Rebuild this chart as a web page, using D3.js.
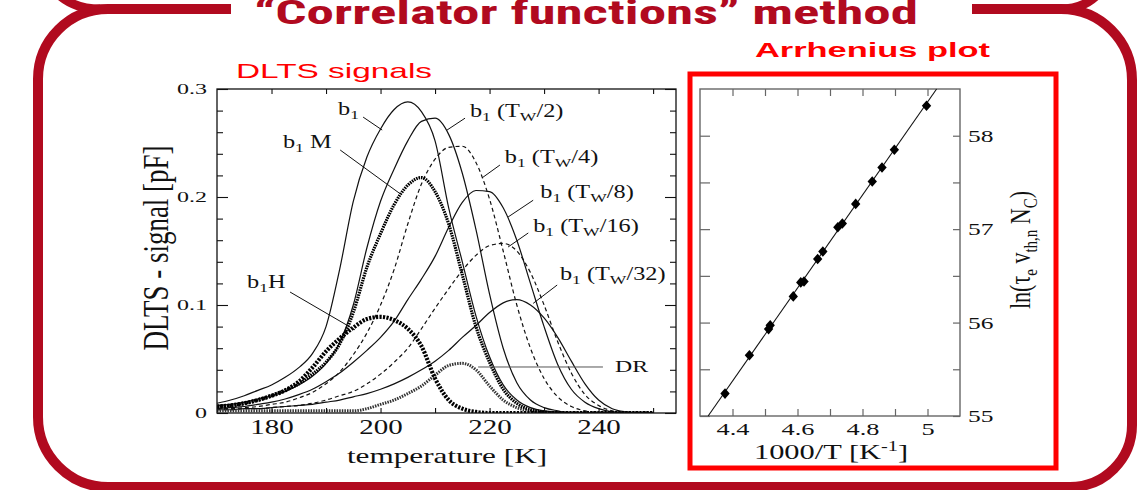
<!DOCTYPE html>
<html>
<head>
<meta charset="utf-8">
<script src="https://cdn.jsdelivr.net/npm/d3@7"></script>
<style>
  body { margin: 0; background: #fff; }
  svg { display: block; }
  .serif { font-family: "Liberation Serif", "DejaVu Serif", serif; fill: #111; }
  .axis line { stroke: #111; stroke-width: 1.1; }
  .axis-grey line { stroke: #666; stroke-width: 1.2; }
</style>
</head>
<body>
<svg id="chart" width="1138" height="490"></svg>
<script>
// --- DLTS signals: temperature grid [K] and signal [pF] per curve ---
const temps = [170,172.5,175,177.5,180,182.5,185,187.5,190,192.5,195,197.5,200,202.5,205,207.5,210,212.5,215,217.5,220,222.5,225,227.5,230,232.5,235,237.5,240,242.5,245,247.5,250];
const b1    = [.009,.012,.016,.021,.026,.033,.042,.055,.08,.133,.196,.237,.263,.281,.288,.279,.252,.19,.14,.09,.052,.026,.012,.005,.002,.001,0,0,0,0,0,0,0];
const b1M   = [.006,.007,.009,.012,.016,.021,.027,.036,.047,.064,.093,.135,.166,.193,.211,.218,.205,.175,.128,.08,.047,.022,.009,.003,.001,0,0,0,0,0,0,0,0];
const b1Tw2 = [.007,.008,.01,.013,.016,.02,.026,.034,.046,.065,.1,.153,.196,.226,.252,.27,.273,.258,.222,.17,.11,.06,.028,.012,.005,.002,0,0,0,0,0,0,0];
const b1Tw4 = [.004,.004,.005,.006,.008,.01,.014,.019,.027,.038,.054,.074,.1,.133,.175,.212,.235,.246,.247,.232,.198,.15,.1,.06,.032,.015,.006,.002,0,0,0,0,0];
const b1Tw8 = [.004,.005,.006,.008,.01,.013,.017,.022,.029,.037,.047,.058,.07,.085,.105,.124,.145,.172,.195,.206,.205,.19,.16,.12,.08,.045,.022,.01,.004,.001,0,0,0];
const b1Tw16 = [.003,.003,.004,.004,.005,.006,.007,.009,.012,.016,.02,.027,.036,.047,.06,.078,.097,.115,.132,.146,.155,.157,.15,.13,.1,.066,.037,.017,.007,.002,0,0,0];
const b1Tw32 = [.003,.003,.004,.004,.005,.006,.007,.008,.01,.012,.015,.018,.022,.027,.033,.04,.048,.058,.07,.081,.093,.102,.105,.1,.088,.07,.048,.027,.012,.004,.001,0,0];
const b1H   = [.006,.007,.009,.012,.016,.021,.029,.042,.057,.069,.079,.087,.089,.086,.078,.062,.032,.012,.004,.001,0,0,0,0,0,0,0,0,0,0,0,0,0];
const dr    = [.002,.002,.002,.002,.002,.002,.002,.002,.002,.002,.002,.004,.008,.012,.018,.025,.035,.044,.046,.04,.025,.012,.005,.002,.001,0,0,0,0,0,0,0,0];

const dltsXTicks = [180,190,200,210,220,230,240,250];
const dltsXLabels = [180,200,220,240];
const dltsYMajor = [0,0.1,0.2,0.3];
const dltsYMinor = [0.02,0.04,0.06,0.08,0.12,0.14,0.16,0.18,0.22,0.24,0.26,0.28];

// --- Arrhenius plot: 1000/T [1/K] and ln(tau_e v_th,n N_C) ---
const invT  = [4.377,4.452,4.511,4.516,4.587,4.610,4.620,4.662,4.678,4.724,4.738,4.779,4.830,4.860,4.898,4.997];
const lnTau = [55.24,55.65,55.93,55.97,56.28,56.43,56.44,56.68,56.76,57.02,57.06,57.27,57.51,57.66,57.85,58.32];
const fitX = [4.325, 5.028];
const fitY = [55.0, 58.5];
const arrXTicks = [4.4,4.5,4.6,4.7,4.8,4.9,5.0];
const arrXLabels = [4.4,4.6,4.8,5.0];
const arrYTicks = [55,55.5,56,56.5,57,57.5,58];
const arrYLabels = [55,56,57,58];

const svg = d3.select("#chart");
const darkRed = "#b10a1f";

// estira el texto en horizontal como en la imagen original
function stretch(sel, k) {
    sel.each(function() {
        const t = d3.select(this);
        const x0 = +t.attr("x") || 0;
        t.attr("x", x0 / k).attr("transform", `scale(${k},1)`);
    });
}

// --- Marco redondeado y titulo ---
const frame = d3.path();
frame.moveTo(231, 9);
frame.lineTo(108, 9);
frame.arcTo(38, 9, 38, 79, 70);
frame.lineTo(38, 417);
frame.arcTo(38, 487, 108, 487, 70);
frame.lineTo(1070, 487);
frame.arcTo(1132, 487, 1132, 425, 62);
frame.lineTo(1132, 80);
frame.arcTo(1132, 9, 1061, 9, 71);
frame.lineTo(972, 9);

svg.append("path")
    .attr("d", frame.toString())
    .attr("fill", "none")
    .attr("stroke", darkRed)
    .attr("stroke-width", 10);

svg.append("path")
    .attr("d", "M 100 9 Q 74 9 58 -6")
    .attr("fill", "none").attr("stroke", darkRed).attr("stroke-width", 9);
svg.append("path")
    .attr("d", "M 1060 9 Q 1084 9 1098 -6")
    .attr("fill", "none").attr("stroke", darkRed).attr("stroke-width", 9);

svg.append("text")
    .attr("x", 586).attr("y", 24)
    .attr("text-anchor", "middle")
    .attr("font-family", "'Liberation Sans Narrow', 'Roboto Condensed', 'Liberation Sans', sans-serif")
    .attr("font-weight", "bold")
    .attr("font-size", 33)
    .attr("fill", darkRed)
    .attr("textLength", 664)
    .attr("lengthAdjust", "spacingAndGlyphs")
    .text("\u201CCorrelator functions\u201D method");

svg.append("text")
    .attr("x", 236).attr("y", 78)
    .attr("font-family", "'Liberation Sans', Arial, sans-serif")
    .attr("font-size", 21)
    .attr("fill", "#ff0000")
    .attr("textLength", 196)
    .attr("lengthAdjust", "spacingAndGlyphs")
    .text("DLTS signals");

svg.append("text")
    .attr("x", 755).attr("y", 57)
    .attr("font-family", "'Liberation Sans', Arial, sans-serif")
    .attr("font-weight", "bold")
    .attr("font-size", 20)
    .attr("fill", "#ff0000")
    .attr("textLength", 235)
    .attr("lengthAdjust", "spacingAndGlyphs")
    .text("Arrhenius plot");

// --- Grafico DLTS ---
const x = d3.scaleLinear().domain([170, 254.2]).range([217, 676]);
const y = d3.scaleLinear().domain([0, 0.3]).range([413, 89]);

svg.append("clipPath").attr("id", "clipDlts")
  .append("rect")
    .attr("x", x.range()[0]).attr("y", y.range()[1])
    .attr("width", x.range()[1] - x.range()[0])
    .attr("height", y.range()[0] - y.range()[1]);

const dlts = svg.append("g").attr("clip-path", "url(#clipDlts)");

const line = d3.line()
    .x((d, i) => x(temps[i]))
    .y(d => y(d))
    .curve(d3.curveMonotoneX);

const dltsSeries = [
    { values: b1Tw32, width: 1.2, dash: null,      color: "#111" },
    { values: b1Tw16, width: 1.2, dash: "4,3",     color: "#111" },
    { values: b1Tw8,  width: 1.2, dash: null,      color: "#111" },
    { values: b1Tw4,  width: 1.2, dash: "4,3",     color: "#111" },
    { values: b1Tw2,  width: 1.2, dash: null,      color: "#111" },
    { values: b1,     width: 1.2, dash: null,      color: "#111" },
    { values: dr,     width: 3.0, dash: "1.5,1.1", color: "#333" },
    { values: b1H,    width: 4.2, dash: "2.2,1.3", color: "#000" },
    { values: b1M,    width: 3.2, dash: "1.6,0.9", color: "#000" }
];

dlts.selectAll("path.curve")
    .data(dltsSeries)
    .join("path")
    .attr("class", "curve")
    .attr("d", d => line(d.values))
    .attr("fill", "none")
    .attr("stroke", d => d.color)
    .attr("stroke-width", d => d.width)
    .attr("stroke-dasharray", d => d.dash);

// ejes y marcas
svg.append("rect")
    .attr("x", 217).attr("y", 89)
    .attr("width", x(254.2) - x(170)).attr("height", y(0) - y(0.3))
    .attr("fill", "none").attr("stroke", "#111").attr("stroke-width", 1.3);

const gxb = svg.append("g").attr("class", "axis serif")
    .attr("transform", `translate(0,${y(0)})`)
    .call(d3.axisBottom(x).tickValues(dltsXTicks).tickSize(-5).tickPadding(7)
        .tickFormat(d => dltsXLabels.includes(d) ? d : ""));
svg.append("g").attr("class", "axis")
    .attr("transform", `translate(0,${y(0.3)})`)
    .call(d3.axisTop(x).tickValues(dltsXTicks).tickSize(-5).tickFormat(""));
const gyl = svg.append("g").attr("class", "axis serif")
    .attr("transform", `translate(${x(170)},0)`)
    .call(d3.axisLeft(y).tickValues(dltsYMajor).tickSize(-11).tickPadding(10)
        .tickFormat(d => d === 0 ? "0" : d.toFixed(1)));
svg.append("g").attr("class", "axis")
    .attr("transform", `translate(${x(170)},0)`)
    .call(d3.axisLeft(y).tickValues(dltsYMinor).tickSize(-6).tickFormat(""));
svg.append("g").attr("class", "axis")
    .attr("transform", `translate(${x(254.2)},0)`)
    .call(d3.axisRight(y).tickValues(dltsYMajor).tickSize(-11).tickFormat(""));
svg.append("g").attr("class", "axis")
    .attr("transform", `translate(${x(254.2)},0)`)
    .call(d3.axisRight(y).tickValues(dltsYMinor).tickSize(-6).tickFormat(""));

svg.selectAll(".axis .domain").remove();
gxb.selectAll("text").attr("font-size", 20).attr("fill", "#111").call(stretch, 1.45);
gyl.selectAll("text").attr("font-size", 15).attr("fill", "#111").call(stretch, 1.6);

svg.append("text")
    .attr("class", "serif")
    .attr("text-anchor", "middle")
    .attr("font-size", 22)
    .attr("transform", `translate(447,463) scale(1.42,1)`)
    .text("temperature [K]");

svg.append("text")
    .attr("class", "serif")
    .attr("text-anchor", "middle")
    .attr("font-size", 27)
    .attr("transform", `translate(168,248) scale(1.3,1) rotate(-90)`)
    .text("DLTS - signal [pF]");

// --- Etiquetas de las curvas ---
const dltsLabels = [
    { suffix: "",   t: 192.2, v: .276, t1: 196.8, v1: .274, t2: 200.3, v2: .262 },
    { suffix: " M", t: 182.1, v: .245, t1: 192.6, v1: .2435, t2: 203.6, v2: .203 },
    { tw: "2",      t: 216.4, v: .274, t1: 215.5, v1: .273, t2: 212.2, v2: .262 },
    { tw: "4",      t: 222.8, v: .2315, t1: 221.9, v1: .2296, t2: 218.6, v2: .2176 },
    { tw: "8",      t: 229.3, v: .199, t1: 228.0, v1: .197, t2: 223.4, v2: .1815 },
    { tw: "16",     t: 228.0, v: .1676, t1: 227.1, v1: .1667, t2: 223.4, v2: .1537 },
    { tw: "32",     t: 232.9, v: .123, t1: 232.4, v1: .1185, t2: 228.0, v2: .1015 },
    { suffix: "H",  t: 175.5, v: .1157, t1: 183.4, v1: .112, t2: 195.3, v2: .077 }
];

const ann = svg.append("g");
ann.selectAll("line")
    .data(dltsLabels)
    .join("line")
    .attr("x1", d => x(d.t1)).attr("y1", d => y(d.v1))
    .attr("x2", d => x(d.t2)).attr("y2", d => y(d.v2))
    .attr("stroke", "#111").attr("stroke-width", 1);

dltsLabels.forEach(d => {
    const t = ann.append("text")
        .attr("class", "serif")
        .attr("font-size", 18)
        .attr("transform", `translate(${x(d.t)},${y(d.v)}) scale(1.35,1)`);
    t.append("tspan").text("b");
    t.append("tspan").attr("dy", 4).attr("font-size", 13).text("1");
    if (d.tw) {
        t.append("tspan").attr("dy", -4).text(" (T");
        t.append("tspan").attr("dy", 4).attr("font-size", 13).text("W");
        t.append("tspan").attr("dy", -4).text("/" + d.tw + ")");
    } else {
        t.append("tspan").attr("dy", -4).text(d.suffix);
    }
});

// DR
ann.append("line")
    .attr("x1", x(217.9)).attr("y1", y(.0426))
    .attr("x2", x(240.8)).attr("y2", y(.0426))
    .attr("stroke", "#555").attr("stroke-width", 1);
ann.append("text")
    .attr("class", "serif")
    .attr("font-size", 17)
    .attr("transform", `translate(${x(243)},${y(.038)}) scale(1.4,1)`)
    .text("DR");

// --- Grafico de Arrhenius ---
svg.append("rect")
    .attr("x", 690).attr("y", 74)
    .attr("width", 366).attr("height", 394)
    .attr("fill", "none").attr("stroke", "#ff0000").attr("stroke-width", 5);

const ax = d3.scaleLinear().domain([4.3, 5.1]).range([700, 960]);
const ay = d3.scaleLinear().domain([55, 58.5]).range([416, 89]);

svg.append("rect")
    .attr("x", ax(4.3)).attr("y", ay(58.5))
    .attr("width", ax(5.1) - ax(4.3)).attr("height", ay(55) - ay(58.5))
    .attr("fill", "none").attr("stroke", "#666").attr("stroke-width", 1.4);

const axb = svg.append("g").attr("class", "axis-grey serif")
    .attr("transform", `translate(0,${ay(55)})`)
    .call(d3.axisBottom(ax).tickValues(arrXTicks).tickSize(-7).tickPadding(7)
        .tickFormat(d => arrXLabels.some(v => Math.abs(v - d) < 1e-6) ? (d === 5 ? "5" : d.toFixed(1)) : ""));
svg.append("g").attr("class", "axis-grey")
    .attr("transform", `translate(0,${ay(58.5)})`)
    .call(d3.axisTop(ax).tickValues(arrXTicks).tickSize(-7).tickFormat(""));
svg.append("g").attr("class", "axis-grey")
    .attr("transform", `translate(${ax(4.3)},0)`)
    .call(d3.axisLeft(ay).tickValues(arrYTicks).tickSize(-10).tickFormat(""));
const ayr = svg.append("g").attr("class", "axis-grey serif")
    .attr("transform", `translate(${ax(5.1)},0)`)
    .call(d3.axisRight(ay).tickValues(arrYTicks).tickSize(-7).tickPadding(8)
        .tickFormat(d => arrYLabels.includes(d) ? d : ""));

svg.selectAll(".axis-grey .domain").remove();
axb.selectAll("text").attr("font-size", 17).attr("fill", "#111").call(stretch, 1.55);
ayr.selectAll("text").attr("font-size", 17).attr("fill", "#111").call(stretch, 1.5);

// quitar los textos vacios de las marcas menores
svg.selectAll(".tick text").filter(function() { return this.textContent === ""; }).remove();

svg.append("line")
    .attr("x1", ax(fitX[0])).attr("y1", ay(fitY[0]))
    .attr("x2", ax(fitX[1])).attr("y2", ay(fitY[1]))
    .attr("stroke", "#111").attr("stroke-width", 1.1);

svg.append("g")
  .selectAll("path")
  .data(invT)
  .join("path")
    .attr("d", d3.symbol(d3.symbolDiamond, 36))
    .attr("transform", (d, i) => `translate(${ax(d)},${ay(lnTau[i])}) scale(1.45,0.95)`)
    .attr("fill", "#000");

const xl = svg.append("text")
    .attr("class", "serif")
    .attr("text-anchor", "middle")
    .attr("font-size", 21)
    .attr("transform", `translate(831,459) scale(1.45,1)`);
xl.append("tspan").text("1000/T [K");
xl.append("tspan").attr("dy", -8).attr("font-size", 14).text("-1");
xl.append("tspan").attr("dy", 8).text("]");

const yl = svg.append("text")
    .attr("class", "serif")
    .attr("text-anchor", "middle")
    .attr("font-size", 22)
    .attr("transform", `translate(1030,250) scale(1.3,1) rotate(-90)`);
yl.append("tspan").text("ln(\u03C4");
yl.append("tspan").attr("dy", 5).attr("font-size", 15).text("e");
yl.append("tspan").attr("dy", -5).text(" v");
yl.append("tspan").attr("dy", 5).attr("font-size", 15).text("th,n");
yl.append("tspan").attr("dy", -5).text(" N");
yl.append("tspan").attr("dy", 5).attr("font-size", 15).text("C");
yl.append("tspan").attr("dy", -5).text(")");
</script>
</body>
</html>
